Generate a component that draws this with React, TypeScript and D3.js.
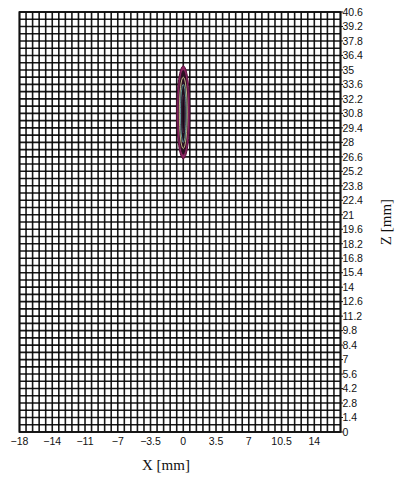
import React from "react";
import * as d3 from "d3";

// Axis extents (mm) and mesh spacing
const xDomain = [-17.5, 16.8];
const zDomain = [0, 40.6];
const meshStep = 0.7;

// X ticks and their printed labels
const xTickValues = [-17.5, -14, -10.5, -7, -3.5, 0, 3.5, 7, 10.5, 14];
const xTickLabels = ["\u221218", "\u221214", "\u221211", "\u22127", "\u22123.5", "0", "3.5", "7", "10.5", "14"];

// Z ticks (every 1.4 mm)
const zTickValues = [0, 1.4, 2.8, 4.2, 5.6, 7, 8.4, 9.8, 11.2, 12.6, 14, 15.4, 16.8, 18.2, 19.6, 21, 22.4, 23.8, 25.2, 26.6, 28, 29.4, 30.8, 32.2, 33.6, 35, 36.4, 37.8, 39.2, 40.6];

// Contour bands of the field around x = 0 (outer to inner)
const contourCenterX = [0, 0, 0, 0, 0];
const contourHalfWidth = [0.7, 0.52, 0.42, 0.3, 0.16];
const contourTop = [35.4, 35.0, 34.3, 33.6, 32.6];
const contourBottom = [26.4, 26.8, 27.4, 28.0, 28.9];
const contourFill = ["#8c2562", "#2a0f22", "#2a0f22", "#1e0c1a", "#160814"];
const contourStroke = ["#5a0f3c", "none", "#e6e3a2", "#6fb8b4", "#4a2a48"];

const W = 399;
const H = 477;
const left = 19.5;
const right = 340.5;
const top = 12;
const bottom = 432;

export default function App() {
  const x = d3.scaleLinear().domain(xDomain).range([left, right]);
  const z = d3.scaleLinear().domain(zDomain).range([bottom, top]);

  const nx = Math.round((xDomain[1] - xDomain[0]) / meshStep);
  const nz = Math.round((zDomain[1] - zDomain[0]) / meshStep);
  const xLines = d3.range(nx + 1).map((i) => xDomain[0] + i * meshStep);
  const zLines = d3.range(nz + 1).map((i) => zDomain[0] + i * meshStep);

  const ellipse = (i: number) => {
    const cx = x(contourCenterX[i]);
    const rx = x(contourCenterX[i] + contourHalfWidth[i]) - cx;
    const y0 = z(contourTop[i]);
    const y1 = z(contourBottom[i]);
    return { cx, rx, cy: (y0 + y1) / 2, ry: (y1 - y0) / 2 };
  };

  return (
    <svg width={W} height={H} style={{ position: "absolute", left: 0, top: 0, background: "#fff" }}>
      <rect x={left} y={top} width={right - left} height={bottom - top} fill="#fff" />
      <g stroke="#000" strokeWidth={1.6} strokeOpacity={0.9}>
        {xLines.map((v, i) => (
          <line key={"vx" + i} x1={x(v)} x2={x(v)} y1={top} y2={bottom} />
        ))}
        {zLines.map((v, i) => (
          <line key={"hz" + i} x1={left} x2={right} y1={z(v)} y2={z(v)} />
        ))}
      </g>
      <rect x={left} y={top} width={right - left} height={bottom - top} fill="none" stroke="#111" strokeWidth={1.8} />

      <g>
        {contourHalfWidth.map((_, i) => {
          const e = ellipse(i);
          return (
            <ellipse
              key={"c" + i}
              cx={e.cx}
              cy={e.cy}
              rx={e.rx}
              ry={e.ry}
              fill={contourFill[i]}
              stroke={contourStroke[i]}
              strokeWidth={i === 0 ? 1 : 0.8}
            />
          );
        })}
      </g>

      {/* Z axis on the right */}
      <g fontFamily="'Liberation Sans Narrow', 'Liberation Sans', Arial, sans-serif" fontSize={10.5} fill="#111">
        {zTickValues.map((v, i) => (
          <g key={"zt" + i}>
            <line x1={right} x2={right + 2.5} y1={z(v)} y2={z(v)} stroke="#111" strokeWidth={1} />
            <text x={right + 2} y={z(v)} dy="0.36em">
              {String(v)}
            </text>
          </g>
        ))}
      </g>

      {/* X axis */}
      <g fontFamily="'Liberation Sans Narrow', 'Liberation Sans', Arial, sans-serif" fontSize={10.5} fill="#111">
        {xTickValues.map((v, i) => (
          <text key={"xt" + i} x={x(v)} y={445} textAnchor="middle">
            {xTickLabels[i]}
          </text>
        ))}
      </g>

      <text x={166} y={470} textAnchor="middle" fontFamily="'Liberation Serif', serif" fontSize={15} fill="#111">
        X [mm]
      </text>
      <text
        transform={`translate(391,222) rotate(-90)`}
        textAnchor="middle"
        fontFamily="'Liberation Serif', serif"
        fontSize={15}
        fill="#111"
      >
        Z [mm]
      </text>
    </svg>
  );
}
